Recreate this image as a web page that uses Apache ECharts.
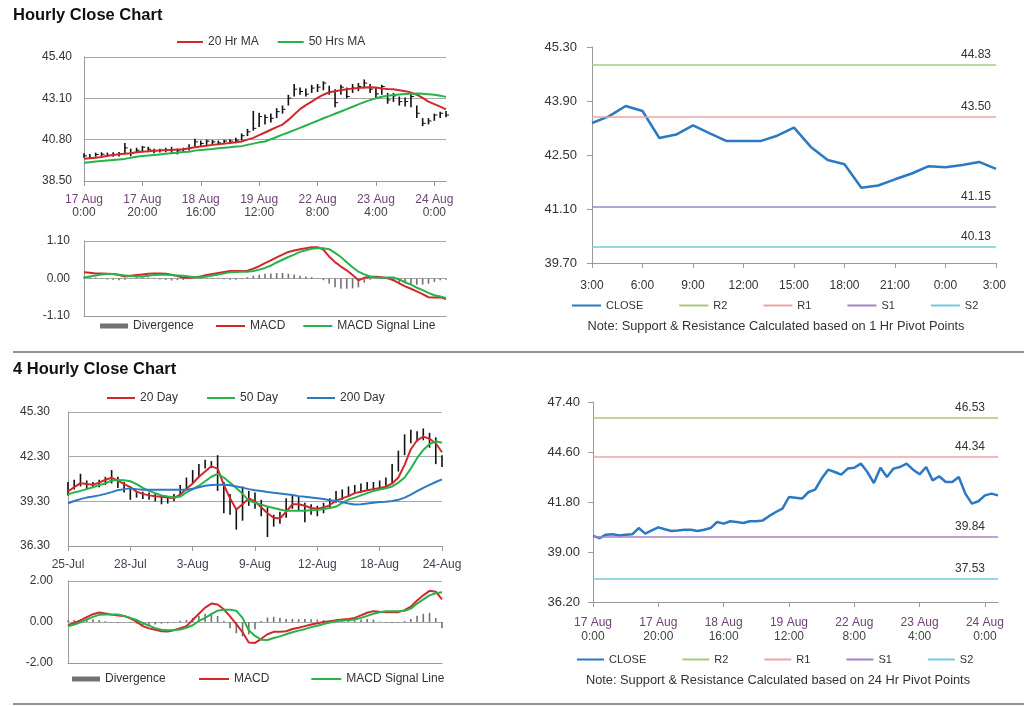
<!DOCTYPE html>
<html><head><meta charset="utf-8">
<script src="https://cdn.jsdelivr.net/npm/echarts@6/dist/echarts.min.js"></script>
<style>html,body{margin:0;padding:0;background:#fff}#c{width:1024px;height:706px}</style>
</head><body><div id="c"></div>
<script>
// ---------- Hourly (2-hour steps) data: panels 1 & 4 ----------
const hourlyTicks = ['17 Aug\n0:00','17 Aug\n20:00','18 Aug\n16:00','19 Aug\n12:00','22 Aug\n8:00','23 Aug\n4:00','24 Aug\n0:00'];
const hourlyClose = [39.90,39.78,39.97,39.99,39.93,39.97,39.99,40.34,40.03,40.21,
 40.38,40.27,40.18,40.21,40.25,40.25,40.18,40.25,40.34,40.68,
 40.59,40.72,40.68,40.62,40.72,40.72,40.77,41.02,41.24,41.43,
 42.08,42.04,41.99,42.36,42.49,43.11,43.61,43.48,43.33,43.67,
 43.72,43.95,43.48,42.86,43.72,43.20,43.67,43.76,43.95,43.61,
 43.35,43.76,43.01,43.24,42.92,42.92,43.20,42.27,41.71,41.84,
 42.17,42.27,42.17];
const hourlyHigh = [40.05,40.00,40.08,40.10,40.08,40.10,40.12,40.62,40.30,40.35,
 40.45,40.40,40.30,40.30,40.35,40.40,40.30,40.35,40.55,40.85,
 40.75,40.80,40.78,40.75,40.80,40.82,40.90,41.15,41.40,42.40,
 42.30,42.20,42.25,42.55,42.70,43.30,43.90,43.70,43.65,43.85,
 43.90,44.05,43.80,43.60,43.85,43.70,43.90,43.95,44.15,43.90,
 43.70,43.85,43.40,43.40,43.20,43.15,43.35,42.70,42.00,42.00,
 42.25,42.35,42.40];
const hourlyLow = [39.80,39.75,39.85,39.88,39.85,39.85,39.86,40.00,39.88,40.05,
 40.15,40.10,40.05,40.08,40.10,40.00,39.98,40.10,40.20,40.40,
 40.45,40.50,40.52,40.50,40.55,40.58,40.60,40.75,41.00,41.30,
 41.50,41.65,41.75,42.00,42.25,42.70,43.20,43.30,43.20,43.40,
 43.45,43.55,43.30,42.60,43.30,43.10,43.40,43.50,43.65,43.40,
 43.10,43.30,42.80,42.90,42.70,42.65,42.60,42.00,41.55,41.65,
 41.85,42.00,42.05];
const hourlyMA20 = [39.74,39.77,39.80,39.83,39.90,39.95,39.99,40.02,40.05,40.10,
 40.13,40.15,40.18,40.20,40.22,40.23,40.25,40.27,40.32,40.38,
 40.42,40.46,40.51,40.54,40.58,40.62,40.65,40.70,40.80,40.90,
 41.05,41.20,41.35,41.50,41.64,41.90,42.20,42.50,42.72,42.92,
 43.12,43.30,43.44,43.50,43.55,43.60,43.64,43.67,43.70,43.72,
 43.70,43.65,43.62,43.60,43.55,43.50,43.42,43.30,43.12,42.92,
 42.78,42.64,42.48];
const hourlyMA50 = [39.52,39.55,39.58,39.61,39.64,39.67,39.70,39.73,39.80,39.85,
 39.89,39.92,39.95,39.98,40.01,40.04,40.07,40.11,40.13,40.19,
 40.22,40.25,40.28,40.32,40.35,40.38,40.42,40.44,40.51,40.58,
 40.65,40.70,40.82,40.95,41.08,41.20,41.33,41.46,41.59,41.72,
 41.85,41.99,42.11,42.24,42.37,42.50,42.63,42.76,42.89,43.00,
 43.10,43.19,43.24,43.28,43.31,43.34,43.36,43.37,43.35,43.33,
 43.30,43.25,43.18];
const hourlyMACD = [0.18,0.17,0.15,0.15,0.14,0.13,0.10,0.06,0.08,0.10,
 0.12,0.14,0.15,0.15,0.14,0.11,0.07,0.02,0.02,0.04,
 0.06,0.10,0.13,0.16,0.19,0.22,0.22,0.22,0.23,0.29,
 0.36,0.45,0.53,0.62,0.70,0.78,0.82,0.86,0.89,0.92,
 0.92,0.85,0.64,0.48,0.35,0.24,0.10,-0.05,0.02,0.05,
 0.05,0.04,0.01,-0.05,-0.14,-0.23,-0.30,-0.38,-0.46,-0.55,
 -0.56,-0.55,-0.60];
const hourlySignal = [0.03,0.06,0.09,0.12,0.13,0.13,0.11,0.09,0.07,0.06,
 0.06,0.08,0.10,0.11,0.11,0.10,0.09,0.08,0.06,0.04,
 0.04,0.06,0.09,0.12,0.15,0.18,0.19,0.20,0.20,0.22,
 0.26,0.31,0.38,0.47,0.55,0.63,0.70,0.78,0.83,0.87,
 0.89,0.89,0.86,0.75,0.63,0.48,0.33,0.20,0.12,0.06,
 0.03,0.02,0.03,0.03,-0.03,-0.11,-0.18,-0.27,-0.34,-0.42,
 -0.49,-0.53,-0.57];
const hourlyDiv = [0.05,0.04,0.03,0.02,-0.03,-0.04,-0.05,-0.04,0.02,0.03,
 0.04,0.03,0.02,-0.03,-0.04,-0.06,-0.05,-0.04,0.02,0.03,
 0.03,0.02,0.02,0.02,-0.02,-0.04,-0.04,-0.02,0.04,0.08,
 0.11,0.14,0.15,0.16,0.16,0.14,0.12,0.08,0.06,0.04,
 0.01,-0.05,-0.15,-0.26,-0.30,-0.30,-0.29,-0.26,-0.12,-0.04,
 0.02,0.02,-0.02,-0.08,-0.12,-0.14,-0.16,-0.18,-0.18,-0.15,
 -0.10,-0.05,-0.04];

// ---------- Panel 2: last 24 hours close with 1 Hr pivots ----------
const p2Cats = ['3:00','4:00','5:00','6:00','7:00','8:00','9:00','10:00','11:00','12:00','13:00','14:00','15:00',
 '16:00','17:00','18:00','19:00','20:00','21:00','22:00','23:00','0:00','1:00','2:00','3:00 '];
const p2Close = [43.33,43.50,43.77,43.64,42.94,43.03,43.27,43.06,42.86,42.86,42.86,43.00,43.21,
 42.71,42.37,42.26,41.65,41.71,41.87,42.02,42.21,42.18,42.24,42.32,42.14];
const p2Levels = {R2: 44.83, R1: 43.50, S1: 41.15, S2: 40.13};
const p4Levels = {R2: 46.53, R1: 44.34, S1: 39.84, S2: 37.53};

// ---------- 4 Hourly data: panel 3 ----------
const fourTicks = ['25-Jul','28-Jul','3-Aug','9-Aug','12-Aug','18-Aug','24-Aug'];
const fourHigh = [40.60,40.75,41.15,40.70,40.60,40.75,40.95,41.40,40.95,40.60,
 40.30,40.00,39.95,39.90,39.85,39.70,39.65,39.80,40.40,40.90,
 41.40,41.80,42.10,42.00,42.40,40.60,39.80,38.80,40.30,40.00,
 39.90,39.40,38.90,38.40,38.60,39.50,39.75,39.60,39.20,39.10,
 39.00,39.20,39.50,40.00,40.10,40.30,40.40,40.50,40.60,40.60,
 40.70,40.90,41.80,42.70,43.80,44.10,44.00,44.20,43.90,43.60,
 42.40];
const fourLow = [39.70,40.10,40.30,40.10,40.20,40.25,40.40,40.50,40.20,39.90,
 39.40,39.55,39.45,39.40,39.30,39.10,39.15,39.30,39.70,40.10,
 40.50,40.90,41.50,41.55,40.00,38.50,38.40,37.40,38.00,39.00,
 38.80,38.30,36.90,37.60,37.80,38.20,38.80,38.70,37.90,38.40,
 38.30,38.50,38.80,39.20,39.40,39.60,39.80,39.90,40.00,40.10,
 40.10,40.20,40.50,41.30,42.40,43.20,43.30,43.40,42.90,41.80,
 41.60];
const ma20Day = [39.96,40.25,40.52,40.47,40.42,40.55,40.75,40.88,40.70,40.45,
 40.25,39.95,39.80,39.70,39.64,39.60,39.55,39.52,39.75,40.15,
 40.50,40.95,41.30,41.65,41.50,40.40,39.50,38.75,39.10,39.50,
 39.30,38.90,38.50,38.20,38.15,38.60,39.10,39.10,39.00,38.85,
 38.80,38.88,39.05,39.35,39.50,39.65,39.85,39.95,40.05,40.12,
 40.20,40.28,40.50,40.90,41.75,42.80,43.40,43.65,43.50,43.20,
 42.60];
const ma50Day = [39.78,39.90,40.00,40.12,40.25,40.40,40.50,40.70,40.74,40.72,
 40.65,40.45,40.20,40.00,39.85,39.70,39.62,39.56,39.62,39.90,
 40.10,40.35,40.65,40.95,41.15,40.90,40.55,40.20,39.80,39.35,
 39.20,39.08,38.95,38.85,38.75,38.66,38.66,38.66,38.67,38.70,
 38.72,38.78,38.85,38.95,39.20,39.42,39.55,39.70,39.85,40.00,
 40.10,40.18,40.30,40.55,40.90,41.50,42.20,42.75,43.15,43.33,
 43.23];
const ma200Day = [39.17,39.32,39.45,39.55,39.62,39.70,39.80,39.92,40.05,40.12,
 40.17,40.12,40.08,40.07,40.07,40.07,40.07,40.07,40.07,40.08,
 40.15,40.25,40.35,40.40,40.41,40.41,40.38,40.30,40.22,40.12,
 40.05,40.00,39.93,39.87,39.82,39.77,39.72,39.65,39.60,39.55,
 39.50,39.45,39.38,39.33,39.25,39.15,39.08,39.10,39.15,39.20,
 39.25,39.28,39.32,39.40,39.55,39.75,39.98,40.20,40.40,40.60,
 40.78];
const fourMACD = [-0.16,-0.05,0.08,0.24,0.38,0.46,0.42,0.36,0.32,0.29,
 0.18,0.02,-0.20,-0.31,-0.38,-0.45,-0.46,-0.40,-0.30,-0.20,
 0.10,0.40,0.70,0.90,0.85,0.62,0.27,-0.10,-0.50,-1.00,
 -1.02,-0.82,-0.60,-0.48,-0.48,-0.45,-0.34,-0.28,-0.20,-0.12,
 -0.06,0.00,0.04,0.08,0.12,0.15,0.20,0.32,0.45,0.53,
 0.50,0.48,0.48,0.48,0.58,0.75,1.05,1.30,1.52,1.48,
 1.10];
const fourSignal = [-0.21,-0.12,-0.02,0.12,0.25,0.35,0.37,0.37,0.37,0.30,
 0.20,0.10,-0.05,-0.18,-0.30,-0.38,-0.40,-0.39,-0.37,-0.28,
 -0.16,0.05,0.20,0.38,0.55,0.60,0.60,0.55,0.20,-0.40,
 -0.68,-0.86,-0.88,-0.78,-0.70,-0.60,-0.50,-0.42,-0.35,-0.25,
 -0.18,-0.10,-0.02,0.04,0.07,0.08,0.12,0.20,0.30,0.40,
 0.48,0.52,0.53,0.53,0.55,0.65,0.90,1.10,1.30,1.40,
 1.45];
const fourDiv = [0.08,0.10,0.12,0.15,0.14,0.10,0.04,-0.02,-0.05,-0.02,
 -0.04,-0.08,-0.15,-0.15,-0.12,-0.08,-0.06,-0.02,0.06,0.10,
 0.20,0.30,0.40,0.45,0.30,0.05,-0.30,-0.55,-0.70,-0.60,
 -0.35,0.05,0.22,0.25,0.20,0.15,0.15,0.14,0.15,0.13,
 0.12,0.10,0.06,0.04,0.05,0.07,0.08,0.12,0.15,0.12,
 0.02,-0.04,-0.05,-0.05,0.05,0.15,0.30,0.40,0.45,0.20,
 -0.30];

// ---------- axis tick labels ----------
const yTicksP1 = [38.50, 40.80, 43.10, 45.40];
const yTicksP1M = [-1.10, 0.00, 1.10];
const yTicksP2 = [39.70, 41.10, 42.50, 43.90, 45.30];
const yTicksP3 = [36.30, 39.30, 42.30, 45.30];
const yTicksP3M = [-2.00, 0.00, 2.00];
const yTicksP4 = [36.20, 39.00, 41.80, 44.60, 47.40];

// ---------- build ----------
const FONT = '"Liberation Sans", Arial, Helvetica, sans-serif';
const AX = '#9a9a9a';
const RED = '#d0282c', GREEN = '#27b24a', BLUE = '#2a79c2', GRAY = '#727272';
const LV = {R2: '#a9c97a', R1: '#eca5a5', S1: '#a184c6', S2: '#72c8e2'};

const hourlyIdx = hourlyClose.map((_, i) => String(i));
const fourIdx = fourHigh.map((_, i) => String(i));

const grids = [
  {left: 84, top: 57, width: 362, height: 124},
  {left: 84, top: 241, width: 362, height: 75},
  {left: 592, top: 47, width: 404, height: 216},
  {left: 68, top: 412, width: 374, height: 134},
  {left: 68, top: 581, width: 374, height: 82},
  {left: 593, top: 402, width: 405, height: 200}
];

function xCat(gi, data, o) {
  const a = {type: 'category', gridIndex: gi, data: data, boundaryGap: false,
    axisLine: {show: true, onZero: false, lineStyle: {color: AX, width: 1}},
    axisTick: {show: !!o.tick, interval: o.interval, length: 5, lineStyle: {color: AX}},
    axisLabel: {show: !!o.label, interval: o.interval, margin: o.margin, color: '#333', fontSize: 12, fontFamily: FONT},
    splitLine: {show: false}};
  if (o.label === 'hourly') {
    a.axisLabel.formatter = (v, i) => {
      const p = hourlyTicks[i / 10].split('\n');
      return '{d|' + p[0] + '}\n{t|' + p[1] + '}';
    };
    a.axisLabel.rich = {
      d: {color: '#6f4377', fontSize: 12, fontFamily: FONT, lineHeight: o.lh},
      t: {color: '#444', fontSize: 12, fontFamily: FONT, lineHeight: o.lh}
    };
  } else if (o.label === 'four') {
    a.axisLabel.formatter = (v, i) => fourTicks[i / 10];
    a.axisLabel.color = '#4a3d52';
  }
  return a;
}

const xAxes = [
  xCat(0, hourlyIdx, {tick: true, label: 'hourly', interval: 9, margin: 12, lh: 13}),
  xCat(1, hourlyIdx, {interval: 9}),
  xCat(2, p2Cats, {tick: true, label: 'plain', interval: 2, margin: 17}),
  xCat(3, fourIdx, {tick: true, label: 'four', interval: 9, margin: 13}),
  xCat(4, fourIdx, {interval: 9}),
  xCat(5, hourlyIdx, {tick: true, label: 'hourly', interval: 9, margin: 14, lh: 14})
];

const yAxes = [];
const dataAxis = [];
function yPair(gi, ticks, o) {
  yAxes.push({type: 'value', gridIndex: gi, position: 'left', min: 0, max: ticks.length - 1, interval: 1,
    axisLine: {show: true, lineStyle: {color: AX}},
    axisTick: {show: !!o.tick, length: 5, lineStyle: {color: AX}},
    axisLabel: {formatter: v => ticks[v].toFixed(2), color: '#333', fontSize: o.fs || 12, fontFamily: FONT, margin: o.margin},
    splitLine: {show: !!o.split, lineStyle: {color: '#a8a8a8', width: 1}}});
  yAxes.push({type: 'value', gridIndex: gi, min: ticks[0], max: ticks[ticks.length - 1], show: false,
    axisLabel: {show: false}, splitLine: {show: false}, axisLine: {show: false}, axisTick: {show: false}});
  dataAxis[gi] = yAxes.length - 1;
}
yPair(0, yTicksP1, {split: true, margin: 12});
yPair(1, yTicksP1M, {split: true, margin: 14});
yPair(2, yTicksP2, {tick: true, margin: 15, fs: 13});
yPair(3, yTicksP3, {split: true, margin: 18});
yPair(4, yTicksP3M, {split: true, margin: 15});
yPair(5, yTicksP4, {tick: true, margin: 13, fs: 13});

function barRender(params, api) {
  const x = api.value(0);
  const hi = api.coord([x, api.value(1)]);
  const lo = api.coord([x, api.value(2)]);
  const ch = [{type: 'line', shape: {x1: hi[0], y1: hi[1], x2: lo[0], y2: lo[1]}, style: {stroke: '#111', lineWidth: 1.6}}];
  const cv = api.value(3);
  if (cv != null && !isNaN(cv)) {
    const c = api.coord([x, cv]);
    ch.push({type: 'line', shape: {x1: c[0], y1: c[1], x2: c[0] + 3, y2: c[1]}, style: {stroke: '#111', lineWidth: 1}});
  }
  return {type: 'group', children: ch};
}

function line(name, gi, data, color, w) {
  return {type: 'line', name: name, xAxisIndex: gi, yAxisIndex: dataAxis[gi], data: data,
    symbol: 'none', smooth: false, color: color, lineStyle: {color: color, width: w}, z: 3, silent: true};
}
function level(name, gi, val, padRight) {
  return {type: 'line', name: name, xAxisIndex: gi, yAxisIndex: dataAxis[gi], data: [],
    symbol: 'none', color: LV[name], lineStyle: {color: LV[name], width: 1.5},
    markLine: {silent: true, symbol: ['none', 'none'], animation: false,
      lineStyle: {color: LV[name], width: 1.5, type: 'solid'},
      label: {show: true, position: 'insideEndTop', distance: [0, 4], padding: [0, padRight, 0, 0],
        formatter: p => Number(p.value).toFixed(2), color: '#333', fontSize: 12, fontFamily: FONT},
      emphasis: {disabled: true},
      data: [{yAxis: val}]}};
}
function div(gi, data) {
  return {type: 'bar', name: 'Divergence', xAxisIndex: gi, yAxisIndex: dataAxis[gi], data: data,
    barWidth: 1.6, color: GRAY, itemStyle: {color: GRAY}, z: 2, silent: true};
}

const series = [
  {type: 'custom', name: 'hourlyBars', xAxisIndex: 0, yAxisIndex: dataAxis[0],
    data: hourlyHigh.map((h, i) => [i, h, hourlyLow[i], hourlyClose[i]]),
    encode: {x: 0, y: [1, 2]}, renderItem: barRender, z: 2, silent: true},
  line('20 Hr MA', 0, hourlyMA20, RED, 2),
  line('50 Hrs MA', 0, hourlyMA50, GREEN, 2),
  div(1, hourlyDiv),
  line('MACD', 1, hourlyMACD, RED, 2),
  line('MACD Signal Line', 1, hourlySignal, GREEN, 2),
  line('CLOSE', 2, p2Close, BLUE, 2.5),
  level('R2', 2, p2Levels.R2, 5), level('R1', 2, p2Levels.R1, 5), level('S1', 2, p2Levels.S1, 5), level('S2', 2, p2Levels.S2, 5),
  {type: 'custom', name: 'fourBars', xAxisIndex: 3, yAxisIndex: dataAxis[3],
    data: fourHigh.map((h, i) => [i, h, fourLow[i]]),
    encode: {x: 0, y: [1, 2]}, renderItem: barRender, z: 2, silent: true},
  line('20 Day', 3, ma20Day, RED, 2),
  line('50 Day', 3, ma50Day, GREEN, 2),
  line('200 Day', 3, ma200Day, BLUE, 2),
  div(4, fourDiv),
  line('MACD', 4, fourMACD, RED, 2),
  line('MACD Signal Line', 4, fourSignal, GREEN, 2),
  line('CLOSE', 5, hourlyClose, BLUE, 2.5),
  level('R2', 5, p4Levels.R2, 13), level('R1', 5, p4Levels.R1, 13), level('S1', 5, p4Levels.S1, 13), level('S2', 5, p4Levels.S2, 13)
];

function legendLines(left, top, gap, names, fs, w) {
  return {left: left, top: top, itemGap: gap, itemWidth: w || 27, itemHeight: 2, padding: 0, selectedMode: false,
    icon: 'rect', data: names,
    textStyle: {color: '#333', fontSize: fs || 12, fontFamily: FONT}};
}
function legendDiv(left, top) {
  return {left: left, top: top, itemWidth: 28, itemHeight: 5, padding: 0, selectedMode: false,
    icon: 'rect', data: ['Divergence'], textStyle: {color: '#333', fontSize: 12, fontFamily: FONT}};
}

const graphic = [
  {type: 'text', left: 13, top: 7, style: {text: 'Hourly Close Chart', font: 'bold 16.5px ' + FONT, fill: '#111'}},
  {type: 'text', left: 13, top: 361, style: {text: '4 Hourly Close Chart', font: 'bold 16.5px ' + FONT, fill: '#111'}},
  {type: 'line', shape: {x1: 13, y1: 352, x2: 1024, y2: 352}, style: {stroke: '#909090', lineWidth: 2}},
  {type: 'line', shape: {x1: 13, y1: 704, x2: 1024, y2: 704}, style: {stroke: '#909090', lineWidth: 2}},
  {type: 'text', x: 776, y: 326, style: {text: 'Note: Support & Resistance Calculated based on 1 Hr Pivot Points',
    font: '12.8px ' + FONT, fill: '#333', align: 'center', verticalAlign: 'middle'}},
  {type: 'text', x: 778, y: 680, style: {text: 'Note: Support & Resistance Calculated based on 24 Hr Pivot Points',
    font: '12.8px ' + FONT, fill: '#333', align: 'center', verticalAlign: 'middle'}}
];

const chart = echarts.init(document.getElementById('c'), null, {renderer: 'canvas'});
chart.setOption({
  animation: false,
  backgroundColor: '#fff',
  textStyle: {fontFamily: FONT},
  grid: grids,
  xAxis: xAxes,
  yAxis: yAxes,
  legend: [
    legendLines(177, 36, 19, ['20 Hr MA', '50 Hrs MA'], 12, 26),
    legendDiv(100, 320),
    legendLines(216, 320, 18, ['MACD', 'MACD Signal Line'], 12, 29),
    legendLines(572, 300, 36, ['CLOSE', 'R2', 'R1', 'S1', 'S2'], 11, 29),
    legendLines(107, 392, 29, ['20 Day', '50 Day', '200 Day'], 12, 28),
    legendDiv(72, 673),
    legendLines(199, 673, 42, ['MACD', 'MACD Signal Line'], 12, 30),
    legendLines(577, 654, 36, ['CLOSE', 'R2', 'R1', 'S1', 'S2'], 11, 27)
  ],
  graphic: graphic,
  series: series
});
</script></body></html>
